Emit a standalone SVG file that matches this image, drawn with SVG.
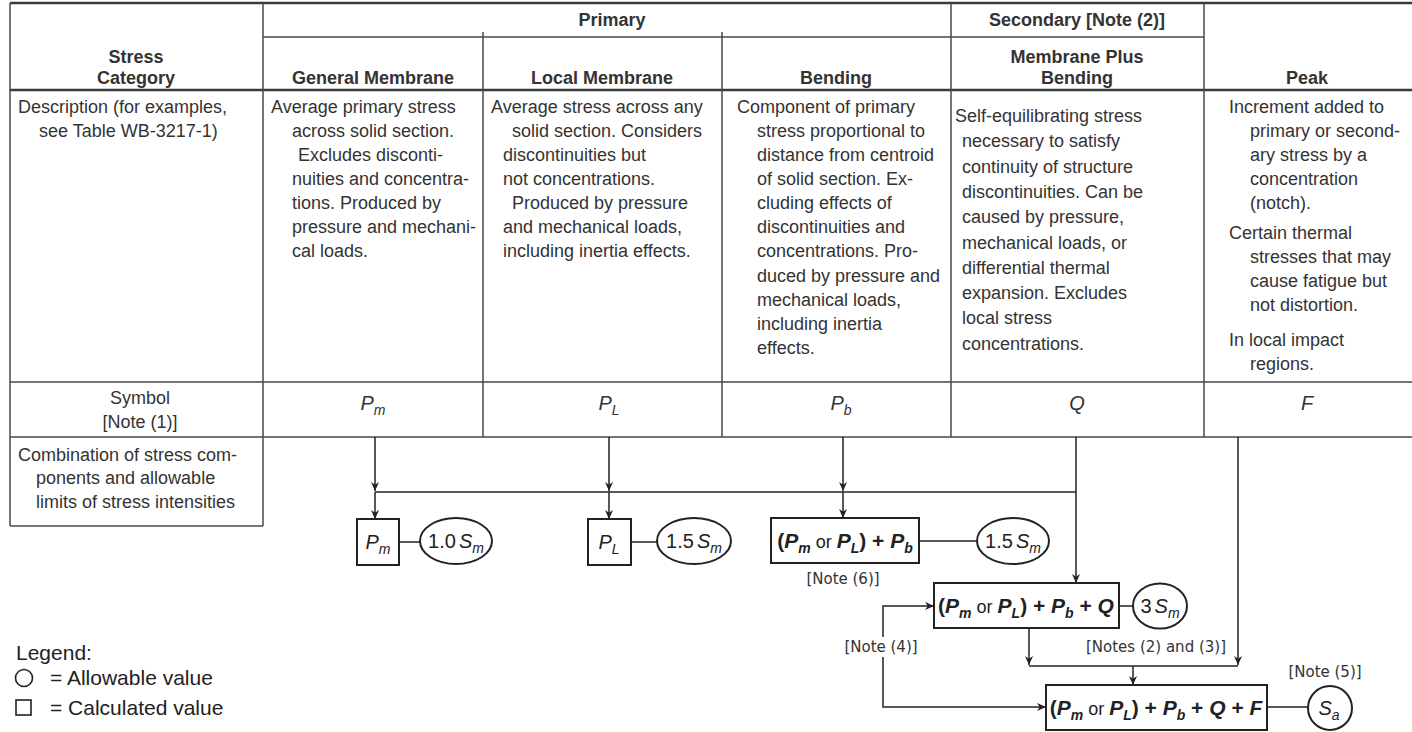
<svg xmlns="http://www.w3.org/2000/svg" width="1412" height="732" viewBox="0 0 1412 732">
<defs>
<marker id="ah" viewBox="0 0 10 10" refX="10" refY="5" markerWidth="9" markerHeight="9" markerUnits="userSpaceOnUse" orient="auto">
<path d="M0,0.5 L10,5 L0,9.5 L3,5 z" fill="#222"/>
</marker>
</defs>
<style>
.tl{stroke:#4a4a4a;stroke-width:1.5;fill:none}
.th{stroke:#3a3a3a;stroke-width:2.5;fill:none}
.t{font-family:"Liberation Sans",Arial,sans-serif;font-size:18px;fill:#333}
.h{font-family:"Liberation Sans",Arial,sans-serif;font-size:18px;font-weight:bold;fill:#333;text-anchor:middle}
.c{text-anchor:middle}
.sym{font-family:"Liberation Sans",Arial,sans-serif;font-size:20px;font-style:italic;fill:#333;text-anchor:middle}
.sb{font-size:14px}
.box{fill:#fff;stroke:#222;stroke-width:2}
.cn{stroke:#222;stroke-width:1.5;fill:none}
.ar{marker-end:url(#ah)}
.f{font-family:"Liberation Sans",Arial,sans-serif;font-size:21px;font-weight:bold;font-style:italic;fill:#222;text-anchor:middle}
.up{font-style:normal}
.or{font-style:normal;font-weight:normal;font-size:18px}
.v{font-family:"Liberation Sans",Arial,sans-serif;font-size:20px;fill:#222;text-anchor:middle}
.it{font-style:italic}
.note{font-family:"DejaVu Sans",sans-serif;font-size:15px;fill:#333;text-anchor:middle}
.lg{font-family:"Liberation Sans",Arial,sans-serif;font-size:21px;fill:#222}
</style>
<rect x="0" y="0" width="1412" height="732" fill="#fff"/>

<g id="table">
<path class="th" d="M10,3 H1412 M10,90 H1412"/>
<path class="tl" d="M263,37 H1204 M10,382 H1412 M10,437 H1412 M10,526 H263 M10,3 V526 M263,3 V526 M483,32 V437 M722,32 V437 M951,3 V437 M1204,3 V437"/>
</g>

<g id="header">
<text class="h" x="612" y="26">Primary</text>
<text class="h" x="1077" y="26">Secondary [Note (2)]</text>
<text class="h" x="136" y="63">Stress</text>
<text class="h" x="136" y="84">Category</text>
<text class="h" x="373" y="84">General Membrane</text>
<text class="h" x="602" y="84">Local Membrane</text>
<text class="h" x="836" y="84">Bending</text>
<text class="h" x="1077" y="63">Membrane Plus</text>
<text class="h" x="1077" y="84">Bending</text>
<text class="h" x="1307" y="84">Peak</text>
</g>

<g id="desc-label">
<text class="t" x="18" y="113">Description (for examples,</text>
<text class="t" x="39" y="137">see Table WB-3217-1)</text>
</g>
<g id="desc-general">
<text class="t" x="271" y="113">Average primary stress</text>
<text class="t" x="292" y="137">across solid section.</text>
<text class="t" x="298" y="161">Excludes disconti-</text>
<text class="t" x="292" y="185">nuities and concentra-</text>
<text class="t" x="292" y="209">tions. Produced by</text>
<text class="t" x="292" y="233">pressure and mechani-</text>
<text class="t" x="292" y="257">cal loads.</text>
</g>
<g id="desc-local">
<text class="t" x="491" y="113">Average stress across any</text>
<text class="t" x="512" y="137">solid section. Considers</text>
<text class="t" x="503" y="161">discontinuities but</text>
<text class="t" x="503" y="185">not concentrations.</text>
<text class="t" x="512" y="209">Produced by pressure</text>
<text class="t" x="503" y="233">and mechanical loads,</text>
<text class="t" x="503" y="257">including inertia effects.</text>
</g>
<g id="desc-bending">
<text class="t" x="737" y="113">Component of primary</text>
<text class="t" x="757" y="137">stress proportional to</text>
<text class="t" x="757" y="161">distance from centroid</text>
<text class="t" x="757" y="185">of solid section. Ex-</text>
<text class="t" x="757" y="209">cluding effects of</text>
<text class="t" x="757" y="233">discontinuities and</text>
<text class="t" x="757" y="257">concentrations. Pro-</text>
<text class="t" x="757" y="282">duced by pressure and</text>
<text class="t" x="757" y="306">mechanical loads,</text>
<text class="t" x="757" y="330">including inertia</text>
<text class="t" x="757" y="354">effects.</text>
</g>
<g id="desc-secondary">
<text class="t" x="955" y="122">Self-equilibrating stress</text>
<text class="t" x="962" y="147">necessary to satisfy</text>
<text class="t" x="962" y="173">continuity of structure</text>
<text class="t" x="962" y="198">discontinuities. Can be</text>
<text class="t" x="962" y="223">caused by pressure,</text>
<text class="t" x="962" y="249">mechanical loads, or</text>
<text class="t" x="962" y="274">differential thermal</text>
<text class="t" x="962" y="299">expansion. Excludes</text>
<text class="t" x="962" y="324">local stress</text>
<text class="t" x="962" y="350">concentrations.</text>
</g>
<g id="desc-peak">
<text class="t" x="1229" y="113">Increment added to</text>
<text class="t" x="1250" y="137">primary or second-</text>
<text class="t" x="1250" y="161">ary stress by a</text>
<text class="t" x="1250" y="185">concentration</text>
<text class="t" x="1250" y="209">(notch).</text>
<text class="t" x="1229" y="239">Certain thermal</text>
<text class="t" x="1250" y="263">stresses that may</text>
<text class="t" x="1250" y="287">cause fatigue but</text>
<text class="t" x="1250" y="311">not distortion.</text>
<text class="t" x="1229" y="346">In local impact</text>
<text class="t" x="1250" y="370">regions.</text>
</g>

<g id="symbol-row">
<text class="t c" x="140" y="404">Symbol</text>
<text class="t c" x="140" y="428">[Note (1)]</text>
<text class="sym" x="373" y="410">P<tspan class="sb" dy="5">m</tspan></text>
<text class="sym" x="609" y="410">P<tspan class="sb" dy="5">L</tspan></text>
<text class="sym" x="841" y="410">P<tspan class="sb" dy="5">b</tspan></text>
<text class="sym" x="1077" y="410">Q</text>
<text class="sym" x="1307" y="410">F</text>
</g>

<g id="combination-label">
<text class="t" x="18" y="461">Combination of stress com-</text>
<text class="t" x="36" y="484">ponents and allowable</text>
<text class="t" x="36" y="508">limits of stress intensities</text>
</g>

<g id="connectors">
<path class="cn ar" d="M375,437 V491"/>
<path class="cn ar" d="M375,492 V519"/>
<path class="cn ar" d="M609,437 V491"/>
<path class="cn ar" d="M609,492 V519"/>
<path class="cn ar" d="M843,437 V491"/>
<path class="cn ar" d="M843,492 V518"/>
<path class="cn" d="M375,492 H1076"/>
<path class="cn ar" d="M1076,437 V583"/>
<path class="cn ar" d="M1238,437 V665"/>
<path class="cn ar" d="M1029,628 V665"/>
<path class="cn" d="M1029,666 H1238"/>
<path class="cn ar" d="M1133,666 V685"/>
<path class="cn ar" d="M883,637 V606 H934"/>
<path class="cn ar" d="M883,657 V707 H1046"/>
<path class="cn" d="M399,542 H420 M631,542 H657 M919,541 H977 M1119,606 H1133 M1267,707 H1308"/>
</g>

<g id="n-pm">
<rect class="box" x="357" y="519" width="42" height="46"/>
<text class="v it" x="378" y="549">P<tspan class="sb" dy="5">m</tspan></text>
</g>
<g id="n-pm-allow">
<ellipse class="box" cx="456" cy="541" rx="36" ry="23"/>
<text class="v" x="456" y="548">1.0<tspan class="it" dx="3">S</tspan><tspan class="it sb" dy="5">m</tspan></text>
</g>
<g id="n-pl">
<rect class="box" x="588" y="519" width="43" height="46"/>
<text class="v it" x="609" y="549">P<tspan class="sb" dy="5">L</tspan></text>
</g>
<g id="n-pl-allow">
<ellipse class="box" cx="694" cy="541" rx="37" ry="23"/>
<text class="v" x="694" y="548">1.5<tspan class="it" dx="3">S</tspan><tspan class="it sb" dy="5">m</tspan></text>
</g>
<g id="n-pb">
<rect class="box" x="771" y="518" width="148" height="45"/>
<text class="f" x="845" y="548"><tspan class="up">(</tspan>P<tspan class="sb" dy="5">m</tspan><tspan class="or" dy="-5"> or </tspan>P<tspan class="sb" dy="5">L</tspan><tspan class="up" dy="-5">) + </tspan>P<tspan class="sb" dy="5">b</tspan></text>
<text class="note" x="843" y="584">[Note (6)]</text>
</g>
<g id="n-pb-allow">
<ellipse class="box" cx="1013" cy="541" rx="36" ry="23"/>
<text class="v" x="1013" y="548">1.5<tspan class="it" dx="3">S</tspan><tspan class="it sb" dy="5">m</tspan></text>
</g>
<g id="n-q">
<rect class="box" x="934" y="583" width="185" height="45"/>
<text class="f" x="1026" y="613"><tspan class="up">(</tspan>P<tspan class="sb" dy="5">m</tspan><tspan class="or" dy="-5"> or </tspan>P<tspan class="sb" dy="5">L</tspan><tspan class="up" dy="-5">) + </tspan>P<tspan class="sb" dy="5">b</tspan><tspan class="up" dy="-5"> + </tspan>Q</text>
</g>
<g id="n-q-allow">
<ellipse class="box" cx="1160" cy="606" rx="27" ry="22.5"/>
<text class="v" x="1160" y="613">3<tspan class="it" dx="3">S</tspan><tspan class="it sb" dy="5">m</tspan></text>
</g>
<g id="n-f">
<rect class="box" x="1046" y="685" width="221" height="45"/>
<text class="f" x="1156" y="715"><tspan class="up">(</tspan>P<tspan class="sb" dy="5">m</tspan><tspan class="or" dy="-5"> or </tspan>P<tspan class="sb" dy="5">L</tspan><tspan class="up" dy="-5">) + </tspan>P<tspan class="sb" dy="5">b</tspan><tspan class="up" dy="-5"> + </tspan>Q<tspan class="up"> + </tspan>F</text>
</g>
<g id="n-f-allow">
<circle class="box" cx="1330" cy="708" r="22"/>
<text class="v it" x="1329" y="715">S<tspan class="sb" dy="5">a</tspan></text>
<text class="note" x="1325" y="677">[Note (5)]</text>
</g>

<g id="labels">
<text class="note" x="881" y="652">[Note (4)]</text>
<text class="note" x="1156" y="652">[Notes (2) and (3)]</text>
</g>

<g id="legend">
<text class="lg" x="16" y="660">Legend:</text>
<circle cx="24" cy="678" r="8.5" fill="none" stroke="#222" stroke-width="1.6"/>
<text class="lg" x="50" y="685">= Allowable value</text>
<rect x="16" y="700" width="15" height="15" fill="none" stroke="#222" stroke-width="1.6"/>
<text class="lg" x="50" y="715">= Calculated value</text>
</g>
</svg>
